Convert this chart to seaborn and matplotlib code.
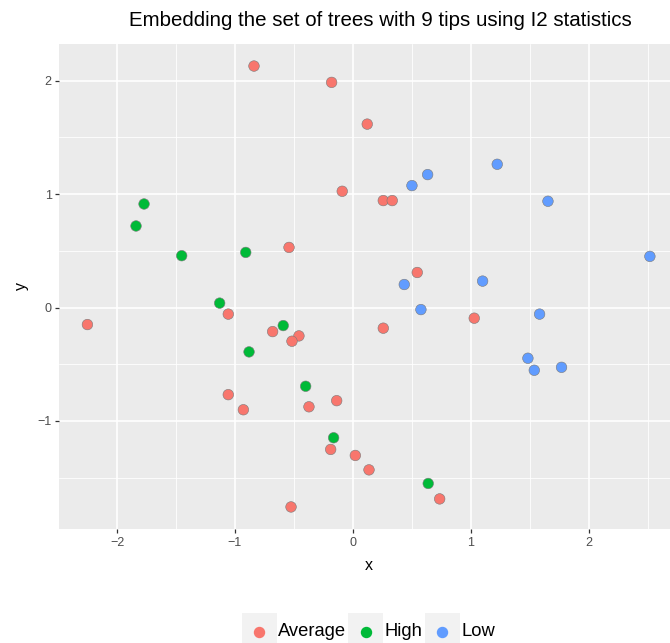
import numpy as np
import pandas as pd
import seaborn as sns
import matplotlib
matplotlib.use("Agg")
import matplotlib.pyplot as plt
from matplotlib.patches import Rectangle
from matplotlib.lines import Line2D

# Embedding coordinates for each tree, grouped by I2 balance class
avg_x = [-0.839, -0.181, -0.091, -0.542, 0.121, 0.257, 0.333, 0.545,
         -2.251, -1.057, -0.681, -0.458, -0.517, -0.138, -0.373, -1.057,
         -0.929, -0.189, 0.020, -0.525, 0.257, 1.028, 0.136, 0.735]
avg_y = [2.129, 1.985, 1.025, 0.530, 1.617, 0.943, 0.943, 0.309,
         -0.150, -0.058, -0.212, -0.250, -0.297, -0.821, -0.875, -0.768,
         -0.901, -1.251, -1.304, -1.758, -0.182, -0.094, -1.431, -1.687]

high_x = [-1.771, -1.839, -1.452, -0.909, -1.130, -0.591, -0.881, -0.401,
          -0.164, 0.638]
high_y = [0.913, 0.719, 0.457, 0.486, 0.039, -0.159, -0.391, -0.694,
          -1.148, -1.551]

low_x = [0.500, 0.633, 1.223, 1.653, 2.517, 0.435, 1.099, 0.576, 1.582,
         1.483, 1.537, 1.768]
low_y = [1.075, 1.172, 1.263, 0.937, 0.451, 0.203, 0.233, -0.018, -0.058,
         -0.447, -0.553, -0.527]

categories = ["Average", "High", "Low"]
colors = ["#F8766D", "#00BA38", "#619CFF"]
x_ticks = [-2, -1, 0, 1, 2]
y_ticks = [-1, 0, 1, 2]
title = "Embedding the set of trees with 9 tips using I2 statistics"

df = pd.DataFrame({
    "x": avg_x + high_x + low_x,
    "y": avg_y + high_y + low_y,
    "class": (["Average"] * len(avg_x) + ["High"] * len(high_x)
              + ["Low"] * len(low_x)),
})

sns.set_theme(style="darkgrid")
plt.rcParams["font.family"] = ["Liberation Sans", "DejaVu Sans"]

W, H = 670, 643
fig = plt.figure(figsize=(W / 100, H / 100), dpi=100)
# panel in pixel coordinates (left, top, right, bottom)
pl, pt, pr, pb = 59.3, 44.0, 678.0, 529.0
ax = fig.add_axes([pl / W, 1 - pb / H, (pr - pl) / W, (pb - pt) / H])
ax.set_facecolor("#EBEBEB")

sns.scatterplot(data=df, x="x", y="y", hue="class", hue_order=categories,
                palette=colors, s=58, linewidth=0.4, edgecolor="#7a7a7a",
                legend=False, ax=ax, zorder=3)

# ggplot-like 5% expansion of the data range
def expanded(vals, f=0.05):
    lo, hi = min(vals), max(vals)
    pad = (hi - lo) * f
    return lo - pad, hi + pad

ax.set_xlim(*expanded(df["x"]))
ax.set_ylim(*expanded(df["y"]))

ax.set_xticks(x_ticks)
ax.set_yticks(y_ticks)
ax.set_xticks([-1.5, -0.5, 0.5, 1.5, 2.5], minor=True)
ax.set_yticks([-1.5, -0.5, 0.5, 1.5], minor=True)
ax.grid(which="major", color="white", linewidth=1.2)
ax.grid(which="minor", color="white", linewidth=0.6)
ax.set_axisbelow(True)
for s in ax.spines.values():
    s.set_visible(False)

ax.tick_params(axis="both", which="major", length=3.0, width=0.9,
               color="#333333", labelsize=9, labelcolor="#4D4D4D", pad=2.5,
               direction="out", bottom=True, left=True)
ax.tick_params(axis="both", which="minor", length=0)

ax.set_xlabel("x", fontsize=11.5, color="black", labelpad=7)
ax.set_ylabel("y", fontsize=11.5, color="black", labelpad=6)

fig.text(380 / W, 1 - 20 / H, title, ha="center", va="center",
         fontsize=14.8, color="black")

# bottom legend with grey key backgrounds
renderer = fig.canvas.get_renderer()
key_w, key_top, key_bottom = 35.0, 613.0, 650.0
cy = 632.0
x0 = 241.7
for cat, col in zip(categories, colors):
    fig.add_artist(Rectangle((x0 / W, 1 - key_bottom / H), key_w / W,
                             (key_bottom - key_top) / H,
                             transform=fig.transFigure, facecolor="#F2F2F2",
                             edgecolor="none"))
    fig.add_artist(Line2D([(x0 + key_w / 2) / W], [1 - cy / H],
                          transform=fig.transFigure, marker="o",
                          markersize=7.2, markerfacecolor=col,
                          markeredgecolor=col, linestyle="none"))
    t = fig.text((x0 + key_w + 1.5) / W, 1 - cy / H, cat, ha="left",
                 va="center", fontsize=13.2, color="black")
    bb = t.get_window_extent(renderer)
    x0 = bb.x1 + 2.0

fig.savefig("out.png", dpi=100)
